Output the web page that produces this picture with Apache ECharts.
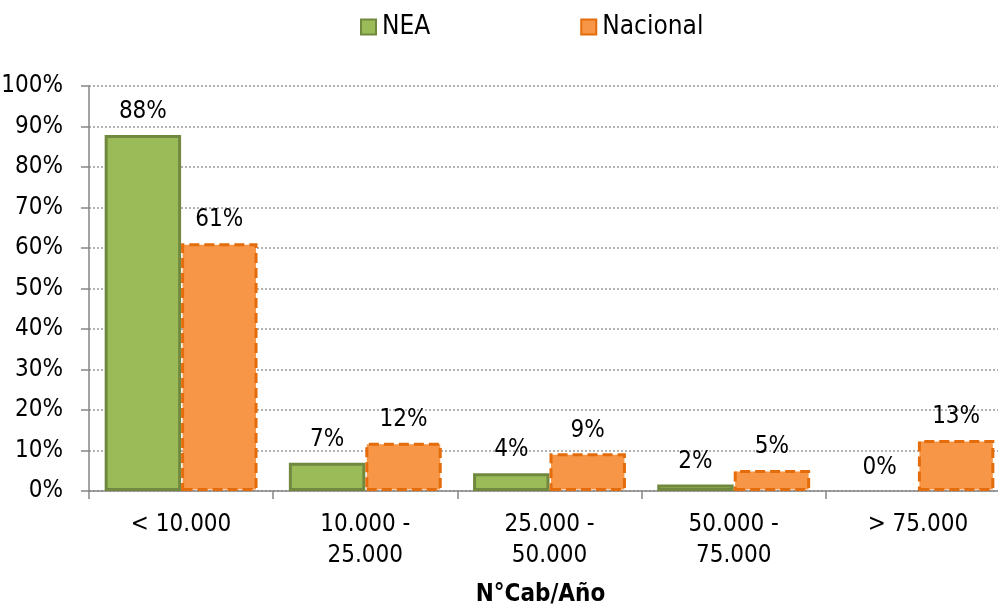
<!DOCTYPE html>
<html>
<head>
<meta charset="utf-8">
<script src="https://cdn.jsdelivr.net/npm/echarts@6/dist/echarts.min.js"></script>
<style>
html,body{margin:0;padding:0;background:#fff;}
#chart{width:998px;height:605px;}
</style>
</head>
<body>
<div id="chart"></div>
<script>
const categories = ['< 10.000', '10.000 -\n25.000', '25.000 -\n50.000', '50.000 -\n75.000', '> 75.000'];
const neaValues = [87.9, 7.0, 4.4, 1.6, 0];
const nacionalValues = [61.2, 11.9, 9.3, 5.2, 12.6];
const yTicks = [0, 10, 20, 30, 40, 50, 60, 70, 80, 90, 100];
const xAxisTitle = 'N°Cab/Año';

const FONT = '"DejaVu Sans Condensed", "DejaVu Sans", sans-serif';
const chart = echarts.init(document.getElementById('chart'));
const labelCfg = {
  show: true, position: 'top', distance: 11,
  fontFamily: FONT, fontSize: 24, color: '#000',
  formatter: p => Math.round(p.value) + '%'
};
chart.setOption({
  animation: false,
  textStyle: { fontFamily: FONT },
  legend: {
    top: 9, left: 355, itemGap: 150, itemWidth: 15, itemHeight: 15,
    icon: 'rect',
    textStyle: { fontFamily: FONT, fontSize: 26, color: '#000', padding: [0, 0, 0, 1] },
    data: ['NEA', 'Nacional']
  },
  grid: { left: 89, width: 921, top: 86, bottom: 114, containLabel: false, outerBoundsMode: 'none' },
  xAxis: {
    type: 'category', data: categories,
    name: xAxisTitle, nameLocation: 'middle', nameGap: 92,
    nameTextStyle: { fontFamily: FONT, fontSize: 24, fontWeight: 'bold', color: '#000', padding: [0, 18, 0, 0] },
    axisLine: { lineStyle: { color: '#868686', width: 1.5 } },
    axisTick: { show: true, alignWithLabel: false, length: 8, lineStyle: { color: '#868686', width: 1.5 } },
    axisLabel: { fontFamily: FONT, fontSize: 24, color: '#000', margin: 18, lineHeight: 31, interval: 0 }
  },
  yAxis: {
    type: 'value', min: 0, max: 100, interval: 10,
    axisLine: { show: true, lineStyle: { color: '#868686', width: 1.5 } },
    axisTick: { show: true, length: 8, lineStyle: { color: '#868686', width: 1.5 } },
    axisLabel: {
      fontFamily: FONT, fontSize: 24, color: '#000', margin: 26,
      formatter: v => (yTicks.includes(v) ? v + '%' : '')
    },
    splitLine: { show: true, lineStyle: { color: '#999', type: [2, 2], width: 1.5 } }
  },
  series: [
    {
      name: 'NEA', type: 'bar',
      data: neaValues.map(v => (v === 0 ? { value: v, itemStyle: { borderWidth: 0 } } : v)),
      barGap: '0%', barCategoryGap: '17%',
      itemStyle: { color: '#9BBB59', borderColor: '#71893F', borderWidth: 3 },
      label: labelCfg
    },
    {
      name: 'Nacional', type: 'bar', data: nacionalValues,
      itemStyle: { color: '#F79646', borderColor: '#E46C0A', borderWidth: 3, borderType: [10, 5] },
      label: labelCfg
    }
  ]
});
</script>
</body>
</html>
